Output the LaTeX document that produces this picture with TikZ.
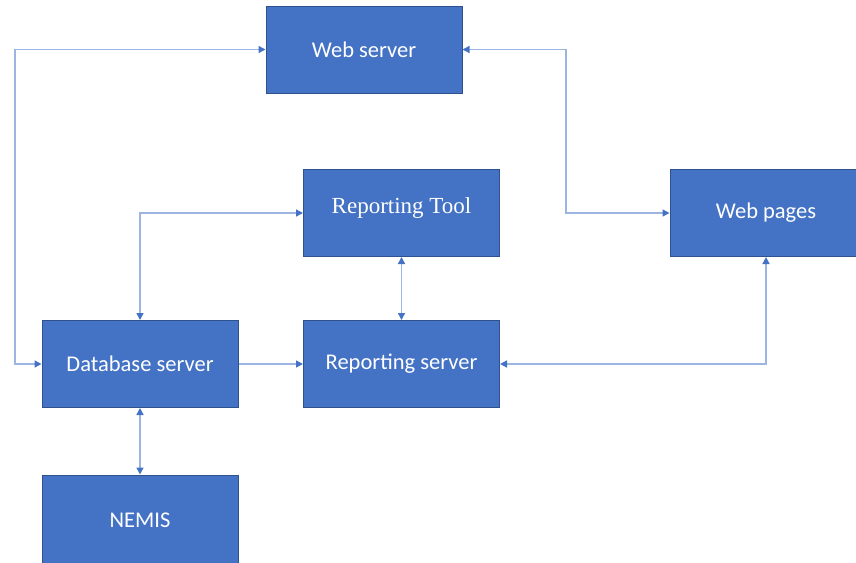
\documentclass[tikz,border=0pt]{standalone}
\usepackage{fontspec}
\setmainfont{Carlito}
\newfontfamily\toolfont{Liberation Serif}
\usetikzlibrary{arrows.meta}
\definecolor{boxblue}{HTML}{4472C4}
\definecolor{boxedge}{HTML}{2F528F}
\definecolor{linkblue}{HTML}{9DB5E3}

\begin{document}
\begin{tikzpicture}[x=1pt,y=-1pt,
                    >={Triangle[length=7pt,width=7pt,color=boxblue]},
                    link/.style={draw=linkblue,line width=1.4pt},
                    main box/.style={rectangle,draw=boxedge,line width=1pt,fill=boxblue,
                      text=white,font=\fontsize{22.5}{26}\selectfont,
                      minimum width=196pt,minimum height=87pt,inner sep=0pt}]
  \useasboundingbox (0,0) rectangle (856,562);
  \clip (0,0) rectangle (856,562);
  \node[main box] (web) at (364,49.5) {Web server};
  \node[main box,text depth=14pt] (tool) at (401.5,213) {\toolfont\fontsize{23}{26}\selectfont Reporting Tool};
  \node[main box,minimum width=192pt] (pages) at (766,213) {Web pages};
  \node[main box] (db) at (140,364) {Database server};
  \node[main box] (rep) at (401.5,364) {Reporting server};
  \node[main box,minimum height=90pt] (nemis) at (140,520) {NEMIS};

  \draw[link,<->] (web.west) -- (15,49.5) |- (db.west);
  \draw[link,<->] (web.east) -- (566,49.5) |- (pages.west);
  \draw[link,<->] (tool.west) -| (db.north);
  \draw[link,<->] (tool.south) -- (rep.north);
  \draw[link,->] (db.east) -- (rep.west);
  \draw[link,<->] (pages.south) |- (rep.east);
  \draw[link,<->] (db.south) -- (nemis.north);
\end{tikzpicture}
\end{document}
